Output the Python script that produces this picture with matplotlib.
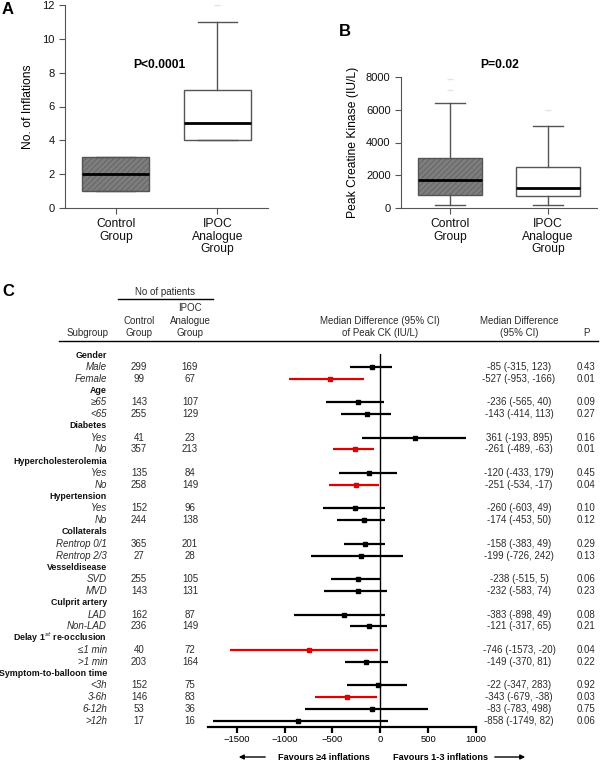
import matplotlib
matplotlib.use('Agg')
import matplotlib.pyplot as plt
from matplotlib.transforms import blended_transform_factory

plt.rcParams['font.family'] = ['Liberation Sans', 'DejaVu Sans']
plt.rcParams['mathtext.fontset'] = 'custom'
plt.rcParams['mathtext.rm'] = 'Liberation Sans:bold'
plt.rcParams['hatch.color'] = '#6e6e6e'
plt.rcParams['hatch.linewidth'] = 0.4

# ---- panel A / B box data ----
group_labels = ['Control\nGroup', 'IPOC\nAnalogue\nGroup']
infl_q1 = [1, 4]
infl_med = [2, 5]
infl_q3 = [3, 7]
infl_lo = [1, 4]
infl_hi = [3, 11]
infl_out = [[], [12]]

ck_q1 = [800, 750]
ck_med = [1700, 1250]
ck_q3 = [3050, 2500]
ck_lo = [200, 200]
ck_hi = [6400, 5000]
ck_out = [[7200, 7900], [6000]]

# ---- panel C forest data ----
group_names = ['Gender', 'Age', 'Diabetes', 'Hypercholesterolemia', 'Hypertension',
               'Collaterals', 'Vesseldisease', 'Culprit artery',
               'Delay 1$^{st}$ re-occlusion', 'Symptom-to-balloon time']
group_sizes = [2, 2, 2, 2, 2, 2, 2, 2, 2, 4]
subgroups = ['Male', 'Female', '\u226565', '<65', 'Yes', 'No', 'Yes', 'No', 'Yes', 'No',
             'Rentrop 0/1', 'Rentrop 2/3', 'SVD', 'MVD', 'LAD', 'Non-LAD',
             '\u22641 min', '>1 min', '<3h', '3-6h', '6-12h', '>12h']
n_control = [299, 99, 143, 255, 41, 357, 135, 258, 152, 244, 365, 27, 255, 143, 162, 236,
             40, 203, 152, 146, 53, 17]
n_ipoc = [169, 67, 107, 129, 23, 213, 84, 149, 96, 138, 201, 28, 105, 131, 87, 149,
          72, 164, 75, 83, 36, 16]
med_diff = [-85, -527, -236, -143, 361, -261, -120, -251, -260, -174, -158, -199, -238, -232,
            -383, -121, -746, -149, -22, -343, -83, -858]
ci_low = [-315, -953, -565, -414, -193, -489, -433, -534, -603, -453, -383, -726, -515, -583,
          -898, -317, -1573, -370, -347, -679, -783, -1749]
ci_high = [123, -166, 40, 113, 895, -63, 179, -17, 49, 50, 49, 242, 5, 74,
           49, 65, -20, 81, 283, -38, 498, 82]
p_vals = ['0.43', '0.01', '0.09', '0.27', '0.16', '0.01', '0.45', '0.04', '0.10', '0.12',
          '0.29', '0.13', '0.06', '0.23', '0.08', '0.21', '0.04', '0.22', '0.92', '0.03',
          '0.75', '0.06']
forest_ticks = [-1500, -1000, -500, 0, 500, 1000]

W, H = 600, 762
fig = plt.figure(figsize=(W / 100, H / 100), dpi=100)


def box(x0, y0, x1, y1):
    # pixel box -> figure fraction rect
    return [x0 / W, 1 - y1 / H, (x1 - x0) / W, (y1 - y0) / H]


def fpos(x, y):
    return x / W, 1 - y / H


axis_col = '#555555'


def draw_box(ax, q1, med, q3, lo, hi, out, capw):
    stats = []
    for i in range(2):
        stats.append(dict(q1=q1[i], med=med[i], q3=q3[i], whislo=lo[i], whishi=hi[i],
                          fliers=out[i]))
    bp = ax.bxp(stats, positions=[1, 2], widths=0.66, capwidths=capw, patch_artist=True,
                boxprops=dict(edgecolor=axis_col, linewidth=1),
                whiskerprops=dict(color=axis_col, linewidth=1),
                capprops=dict(color=axis_col, linewidth=1),
                medianprops=dict(color='black', linewidth=2),
                flierprops=dict(marker='_', markeredgecolor='#e4e4e4', markersize=4))
    bp['boxes'][0].set_facecolor('#7d7d7d')
    bp['boxes'][0].set_hatch('//////')
    bp['boxes'][1].set_facecolor('white')
    for f in bp['fliers']:
        f.set_clip_on(False)
    ax.set_xlim(0.5, 2.5)
    ax.set_xticks([1, 2])
    for s in ['top', 'right']:
        ax.spines[s].set_visible(False)
    for s in ['left', 'bottom']:
        ax.spines[s].set_color(axis_col)
    ax.tick_params(colors=axis_col, labelcolor='#111111', length=4)
    ax.tick_params(axis='y', labelsize=8)
    ax.set_xticklabels(group_labels, fontsize=8.7, linespacing=1.05)


# Panel A
axa = fig.add_axes(box(65, 5, 268, 208))
draw_box(axa, infl_q1, infl_med, infl_q3, infl_lo, infl_hi, infl_out, 0.38)
axa.set_ylim(0, 12)
axa.set_yticks(range(0, 13, 2))
axa.set_ylabel('No. of Inflations', fontsize=8.7, labelpad=6)
fig.text(*fpos(159, 65), 'P<0.0001', fontsize=8.7, fontweight='bold', ha='center', va='center')
fig.text(*fpos(2, 9), 'A', fontsize=12, fontweight='bold', ha='left', va='center')

# Panel B
axb = fig.add_axes(box(401, 77, 597, 208))
draw_box(axb, ck_q1, ck_med, ck_q3, ck_lo, ck_hi, ck_out, 0.3)
axb.set_ylim(0, 8000)
axb.set_yticks(range(0, 8001, 2000))
axb.set_ylabel('Peak Creatine Kinase (IU/L)', fontsize=8.7, labelpad=5)
fig.text(*fpos(500, 65), 'P=0.02', fontsize=8.7, fontweight='bold', ha='center', va='center')
fig.text(*fpos(345, 32), 'B', fontsize=12, fontweight='bold', ha='center', va='center')

# Panel C forest plot
row_px = 11.8
row0_px = 355
top_px, bot_px = 354, 727
axf = fig.add_axes(box(208, top_px, 476, bot_px))
axf.set_xlim(-1800, 1000)
axf.set_ylim((bot_px - row0_px) / row_px, (top_px - row0_px) / row_px)
for s in ['top', 'right', 'left']:
    axf.spines[s].set_visible(False)
axf.spines['bottom'].set_linewidth(1.6)
axf.set_yticks([])
axf.set_xticks(forest_ticks)
axf.tick_params(axis='x', length=4, width=1.6, labelsize=6.8, pad=2)
axf.axvline(0, color='black', linewidth=1)

tr = blended_transform_factory(fig.transFigure, axf.transData)
txt_col = '#2b2b2b'
fs = 7
row = 0
k = 0
for g, n in zip(group_names, group_sizes):
    fig.text(107 / W, row, g, transform=tr, fontsize=6.4, fontweight='bold', ha='right',
             va='center', color='#111111')
    row += 1
    for _ in range(n):
        col = '#e00000' if ci_high[k] < 0 else 'black'
        axf.plot([ci_low[k], ci_high[k]], [row, row], color=col, linewidth=1.6,
                 solid_capstyle='butt', clip_on=False)
        axf.plot(med_diff[k], row, marker='s', color=col, markersize=3.2, clip_on=False)
        fig.text(107 / W, row, subgroups[k], transform=tr, fontsize=fs, style='italic',
                 ha='right', va='center', color=txt_col)
        fig.text(139 / W, row, str(n_control[k]), transform=tr, fontsize=fs, ha='center',
                 va='center', color=txt_col)
        fig.text(190 / W, row, str(n_ipoc[k]), transform=tr, fontsize=fs, ha='center',
                 va='center', color=txt_col)
        fig.text(519 / W, row, f'{med_diff[k]} ({ci_low[k]}, {ci_high[k]})', transform=tr,
                 fontsize=fs, ha='center', va='center', color=txt_col)
        fig.text(586 / W, row, p_vals[k], transform=tr, fontsize=fs, ha='center',
                 va='center', color=txt_col)
        row += 1
        k += 1

# table header
fig.text(*fpos(8, 292), 'C', fontsize=12, fontweight='bold', ha='center', va='center')
hdr = dict(fontsize=fs, va='center', color=txt_col)
fig.text(*fpos(165, 292), 'No of patients', ha='center', **hdr)
fig.add_artist(plt.Line2D([118 / W, 213 / W], [1 - 299 / H] * 2, color='black', linewidth=1))
fig.text(*fpos(190, 308), 'IPOC', ha='center', **hdr)
fig.text(*fpos(139, 321), 'Control', ha='center', **hdr)
fig.text(*fpos(190, 321), 'Analogue', ha='center', **hdr)
fig.text(*fpos(109, 333), 'Subgroup', ha='right', **hdr)
fig.text(*fpos(139, 333), 'Group', ha='center', **hdr)
fig.text(*fpos(190, 333), 'Group', ha='center', **hdr)
fig.text(*fpos(380, 321), 'Median Difference (95% CI)', ha='center', **hdr)
fig.text(*fpos(380, 333), 'of Peak CK (IU/L)', ha='center', **hdr)
fig.text(*fpos(519, 321), 'Median Difference', ha='center', **hdr)
fig.text(*fpos(519, 333), '(95% CI)', ha='center', **hdr)
fig.text(*fpos(586, 333), 'P', ha='center', **hdr)
fig.add_artist(plt.Line2D([59 / W, 598 / W], [1 - 341 / H] * 2, color='black', linewidth=1))

# favours arrows
arr = dict(arrowstyle='-|>', color='black', linewidth=1, mutation_scale=7)
fig.add_artist(matplotlib.patches.FancyArrowPatch(fpos(268, 757), fpos(236, 757),
                                                  transform=fig.transFigure, **arr))
fig.add_artist(matplotlib.patches.FancyArrowPatch(fpos(492, 757), fpos(528, 757),
                                                  transform=fig.transFigure, **arr))
fig.text(*fpos(278, 757), 'Favours \u22654 inflations', fontsize=6.6, fontweight='bold',
         ha='left', va='center')
fig.text(*fpos(393, 757), 'Favours 1-3 inflations', fontsize=6.6, fontweight='bold',
         ha='left', va='center')

fig.savefig('out.png', dpi=100)
